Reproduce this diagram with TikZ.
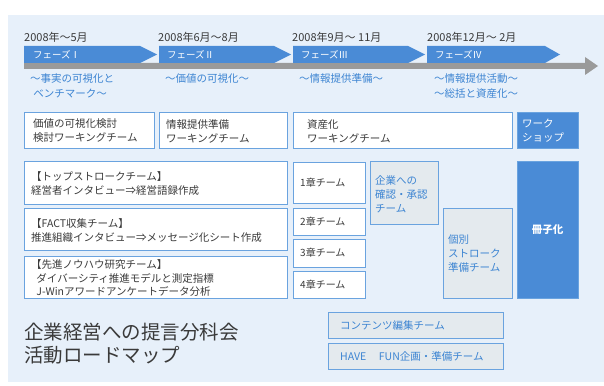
\documentclass[tikz,border=0pt]{standalone}
\usepackage{fontspec}
\setmainfont{Noto Sans CJK JP}
\definecolor{bgc}{HTML}{E7F0FA}
\definecolor{bordc}{HTML}{6AA3DF}
\definecolor{bluef}{HTML}{4A8BD6}
\definecolor{bluet}{HTML}{3C84D2}
\definecolor{greyf}{HTML}{E4EAEE}
\definecolor{barc}{HTML}{9A9A9A}
\definecolor{txtc}{HTML}{3A3A3A}
\begin{document}
\begin{tikzpicture}[x=1pt,y=-1pt,
  box/.style={draw=bordc, line width=1pt, fill=white, inner sep=0pt, outer sep=0pt, anchor=north west},
  gbox/.style={box, fill=greyf},
  bbox/.style={box, fill=bluef},
  txt/.style={anchor=west, align=left, inner sep=0pt, text=txtc, font=\fontsize{10.5}{14}\selectfont},
  btxt/.style={txt, text=bluet},
  wtxt/.style={txt, text=white},
  date/.style={anchor=west, inner sep=0pt, text=txtc, font=\fontsize{11}{13}\selectfont},
  phase/.style={fill=bluef, draw=none},
  plab/.style={anchor=west, inner sep=0pt, text=white, font=\fontsize{9.5}{11}\selectfont},
  sub/.style={anchor=west, align=left, inner sep=0pt, text=bluet, font=\fontsize{10.5}{15}\selectfont},
  chap/.style={anchor=west, inner sep=0pt, text=txtc, font=\fontsize{10}{12}\selectfont},
]
\useasboundingbox (0,0) rectangle (604,385);
\fill[bgc] (8,15) rectangle (604,382);

% timeline bar
\coordinate (tl0) at (24,63);
\fill[barc] (24,63) -- (585,63) -- (585,57) -- (598,66) -- (585,75) -- (585,69) -- (24,69) -- cycle;

% phase arrows
\fill[phase] (24,46) -- (140,46) -- (157,54.5) -- (140,63) -- (24,63) -- cycle;
\fill[phase] (159,46) -- (274,46) -- (291,54.5) -- (274,63) -- (159,63) -- cycle;
\fill[phase] (293,46) -- (408,46) -- (425,54.5) -- (408,63) -- (293,63) -- cycle;
\fill[phase] (427,46) -- (545,46) -- (560,54.5) -- (545,63) -- (427,63) -- cycle;
\node[plab] (p1) at (33,54.5) {フェーズⅠ};
\node[plab] (p2) at (167,54.5) {フェーズⅡ};
\node[plab] (p3) at (301,54.5) {フェーズⅢ};
\node[plab] (p4) at (435,54.5) {フェーズⅣ};

% dates
\node[date] (d1) at (24,37.5) {2008年～5月};
\node[date] (d2) at (158,37.5) {2008年6月～8月};
\node[date] (d3) at (292,37.5) {2008年9月～ 11月};
\node[date] (d4) at (427,37.5) {2008年12月～ 2月};

% subtitles
\node[sub, anchor=north west] (s1) at (30,73) {～事実の可視化と\\\hspace{0.3em}ベンチマーク～};
\node[sub, anchor=north west] (s2) at (165,73) {～価値の可視化～};
\node[sub, anchor=north west] (s3) at (299,73) {～情報提供準備～};
\node[sub, anchor=north west] (s4) at (434,73) {～情報提供活動～\\～総括と資産化～};

% row 1
\node[box, minimum width=130, minimum height=36] (b1) at (24,112) {};
\node[txt] at (33,131) {価値の可視化検討\\検討ワーキングチーム};
\node[box, minimum width=128, minimum height=36] (b2) at (159,112) {};
\node[txt] at (166,131) {情報提供準備\\ワーキングチーム};
\node[box, minimum width=219, minimum height=36] (b3) at (293,112) {};
\node[txt] at (307,131) {資産化\\ワーキングチーム};
\node[bbox, minimum width=61, minimum height=36] (b4) at (517,112) {};
\node[wtxt] at (522,131) {ワーク\\ショップ};

% left team boxes
\node[box, minimum width=263, minimum height=43] (ta) at (24,161) {};
\node[txt] at (31,184) {【トップストロークチーム】\\経営者インタビュー⇒経営語録作成};
\node[box, minimum width=263, minimum height=42] (tb) at (24,208) {};
\node[txt] at (31,230.5) {【FACT収集チーム】\\推進組織インタビュー⇒メッセージ化シート作成};
\node[box, minimum width=263, minimum height=42] (tc) at (24,256) {};
\node[txt, font=\fontsize{10.5}{13.5}\selectfont] at (31,278.5) {【先進ノウハウ研究チーム】\\\hspace{0.5em}ダイバーシティ推進モデルと測定指標\\\hspace{0.5em}J-Winアワードアンケートデータ分析};

% chapter boxes
\node[box, minimum width=72, minimum height=41] (c1) at (293,162) {};
\node[chap] at (300,183) {1章チーム};
\node[box, minimum width=72, minimum height=27] (c2) at (293,208) {};
\node[chap] at (300,221.5) {2章チーム};
\node[box, minimum width=72, minimum height=28] (c3) at (293,239) {};
\node[chap] at (300,253) {3章チーム};
\node[box, minimum width=72, minimum height=27] (c4) at (293,271) {};
\node[chap] at (300,284.5) {4章チーム};

% confirmation / individual
\node[gbox, minimum width=68, minimum height=63] (cf) at (370,161) {};
\node[btxt] at (375,194) {企業への\\確認・承認\\チーム};
\node[gbox, minimum width=69, minimum height=90] (iv) at (443,208) {};
\node[btxt] at (448,253.5) {個別\\ストローク\\準備チーム};

% booklet
\node[bbox, minimum width=61, minimum height=137] (bk) at (517,161) {};
\node[anchor=center, inner sep=0pt, text=white, font=\fontsize{10.5}{13}\selectfont\bfseries] at (bk.center) {冊子化};

% bottom teams
\node[gbox, minimum width=175, minimum height=26] (ce) at (328,312) {};
\node[btxt] at (340,325.5) {コンテンツ編集チーム};
\node[gbox, minimum width=175, minimum height=26] (hf) at (328,343) {};
\node[btxt] at (340,356.5) {HAVE\hspace{1.2em}FUN企画・準備チーム};

% title
\node[anchor=west, align=left, inner sep=0pt, text=txtc, font=\fontsize{19.5}{23}\selectfont] (title) at (24,343.5) {企業経営への提言分科会\\活動ロードマップ};
\end{tikzpicture}
\end{document}
